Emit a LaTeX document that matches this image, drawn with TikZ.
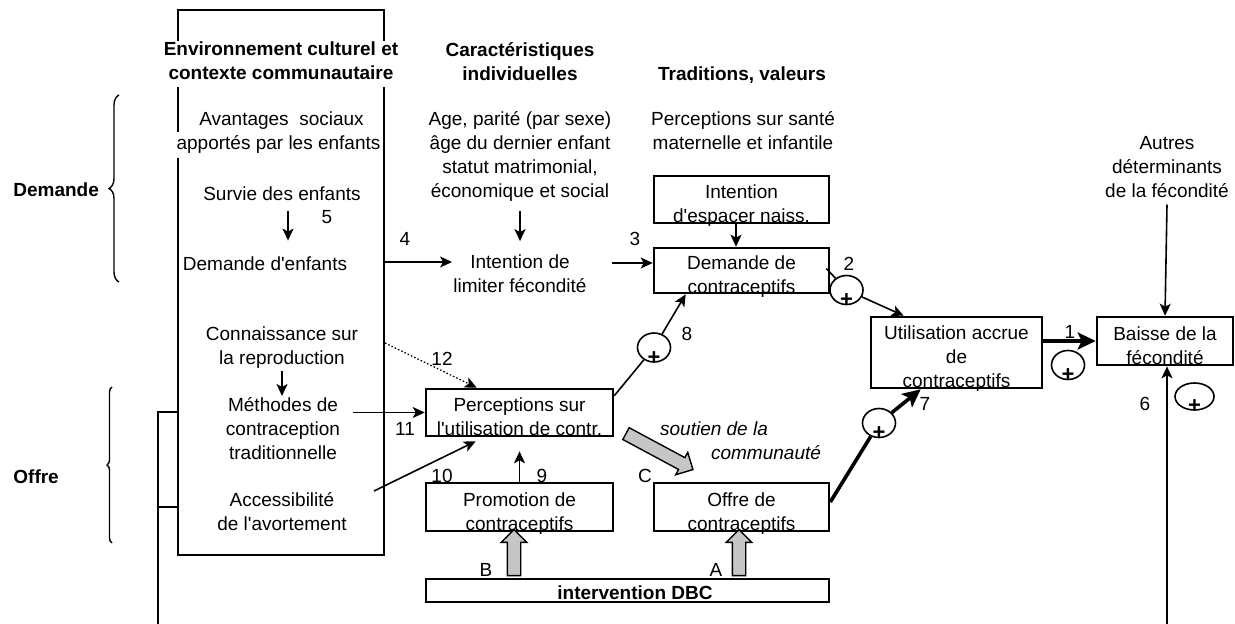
\documentclass[tikz,border=0pt]{standalone}
\usepackage{fontspec}
\setmainfont{Liberation Sans}
\usetikzlibrary{arrows.meta,shapes.geometric,shapes.arrows,decorations.pathreplacing}
\newcommand\myfs{\fontsize{9.5pt}{12pt}\selectfont}
\newcommand\apo{\textquotesingle}
\begin{document}
\begin{tikzpicture}[x=0.5pt,y=-0.5pt,
  every node/.style={font=\myfs, inner sep=0.5pt},
  txt/.style={align=center, execute at begin node=\strut, execute at end node=\strut, yshift=-2pt},
  hd/.style={txt, font=\myfs\bfseries},
  bt/.style={align=center, execute at begin node=\strut, execute at end node=\strut, yshift=-4pt},
  bx/.style={draw, line width=1.3pt, inner sep=0pt},
  pc/.style={ellipse, draw, line width=0.8pt, inner sep=0pt, minimum width=16.5pt, minimum height=14.5pt},
  plus/.style={font=\fontsize{11pt}{12pt}\selectfont\bfseries, inner sep=0pt},
  ln/.style={line width=0.8pt},
  ar/.style={line width=0.8pt, -{Stealth[length=6pt,width=5.5pt,inset=1.5pt]}},
  thk/.style={line width=1.8pt, -{Stealth[length=9pt,width=8.5pt,inset=2pt]}},
  blk/.style={single arrow, draw, line width=0.7pt, fill=gray!45, inner xsep=0pt, inner ysep=3pt, single arrow head extend=3pt, single arrow head indent=0pt},
  brc/.style={decorate, line width=0.7pt}
]
\useasboundingbox (0,0) rectangle (1235,624);

% big frame
\node[draw, line width=1.3pt, minimum width=103pt, minimum height=272.5pt, inner sep=0pt] (env) at (281,282.5) {};

% headings
\node[hd, fill=white] (h1) at (281,60) {Environnement culturel et\\contexte communautaire};
\node[hd] (h2) at (520,61) {Caractéristiques\\individuelles};
\node[hd] (h3) at (742,72) {Traditions, valeurs};

% left column texts
\node[txt] (av1) at (281.5,117) {Avantages\ \ sociaux};
\node[txt, fill=white] (av2) at (278.5,141) {apportés par les enfants};
\node[txt] (survie) at (282,192) {Survie des enfants};
\node[txt] (n5) at (327,215) {5};
\node[txt] (dmdenf) at (265,262) {Demande d\apo enfants};
\node[txt] (connais) at (282,345) {Connaissance sur\\la reproduction};
\node[txt] (methodes) at (283,428) {Méthodes de\\contraception\\traditionnelle};
\node[txt] (access) at (282,511) {Accessibilité\\de l\apo avortement};

% side labels
\node[txt, font=\myfs\bfseries, anchor=west] (ldem) at (12,188) {Demande};
\node[txt, font=\myfs\bfseries, anchor=west] (loff) at (12,475) {Offre};
\draw[brc, decoration={brace, amplitude=5pt}] (119,282) -- (119,95);
\draw[brc, decoration={brace, amplitude=2.5pt}] (112,543) -- (112,387);

% middle texts
\node[txt] (age) at (520,154) {Age, parité (par sexe)\\âge du dernier enfant\\statut matrimonial,\\économique et social};
\node[txt] (persante) at (743,130) {Perceptions sur santé\\maternelle et infantile};
\node[txt] (intl) at (520,273) {Intention de\\limiter fécondité};
\node[txt] (autres) at (1167,167) {Autres\\déterminants\\de la fécondité};

% boxes
\node[bx, minimum width=87.5pt, minimum height=23.5pt] (esp) at (741.5,199.5) {};
\node[bt] (espT) at (esp) {Intention\\d\apo espacer naiss.};
\node[bx, minimum width=87.5pt, minimum height=22.5pt] (dem) at (741.5,270.5) {};
\node[bt] (demT) at (dem) {Demande de\\contraceptifs};
\node[bx, minimum width=85.5pt, minimum height=35.5pt] (util) at (956.5,352.5) {};
\node[bt] (utilT) at (util) {Utilisation accrue\\de\\contraceptifs};
\node[bx, minimum width=68pt, minimum height=24pt] (baisse) at (1165,341) {};
\node[bt] (baisseT) at (baisse) {Baisse de la\\fécondité};
\node[bx, minimum width=93.5pt, minimum height=23.5pt] (perc) at (519.5,412.5) {};
\node[bt] (percT) at (perc) {Perceptions sur\\l\apo utilisation de contr.};
\node[bx, minimum width=93.5pt, minimum height=24pt] (promo) at (519.5,507) {};
\node[bt] (promoT) at (promo) {Promotion de\\contraceptifs};
\node[bx, minimum width=87.5pt, minimum height=24pt] (offre) at (741.5,507) {};
\node[bt] (offreT) at (offre) {Offre de\\contraceptifs};
\node[bx, minimum width=201.5pt, minimum height=11.5pt] (dbc) at (627.5,590.5) {};
\node[bt, font=\myfs\bfseries, yshift=2pt] (dbcT) at ([xshift=3.75pt]dbc) {intervention DBC};

% plus circles
\node[pc] (c2) at (846.5,290) {};
\node[plus] (p2) at ([yshift=2.5pt]c2.south) {+};
\node[pc] (c8) at (654,347.5) {};
\node[plus] (p8) at ([yshift=2.5pt]c8.south) {+};
\node[pc] (c1) at (1068,365) {};
\node[plus] (p1) at ([yshift=2.5pt]c1.south) {+};
\node[pc] (c7) at (879,423) {};
\node[plus] (p7) at ([yshift=2.5pt]c7.south) {+};
\node[pc, minimum width=19.5pt, minimum height=13.5pt] (c6) at (1194.5,396.5) {};
\node[plus] (p6) at ([yshift=2.5pt]c6.south) {+};

% number labels
\node[txt] (n4) at (405,237) {4};
\node[txt] (n3) at (635,237) {3};
\node[txt] (n2) at (849,262) {2};
\node[txt] (n1) at (1070,330) {1};
\node[txt] (n8) at (687,332) {8};
\node[txt] (n12) at (442,357) {12};
\node[txt] (n11) at (405,427) {11};
\node[txt] (n10) at (442,474) {10};
\node[txt] (n9) at (542,474) {9};
\node[txt] (nC) at (645,474) {C};
\node[txt] (nB) at (486,568) {B};
\node[txt] (nA) at (716,568) {A};
\node[txt] (n7) at (925,402) {7};
\node[txt] (n6) at (1145,402) {6};
\node[txt, font=\myfs\itshape] (sou1) at (714,427) {soutien de la};
\node[txt, font=\myfs\itshape] (sou2) at (766,451) {communauté};

% block arrows
\node[blk, rotate=90, minimum height=23pt] (bB) at (514,556) {};
\node[blk, rotate=90, minimum height=23pt] (bA) at (739,556) {};
\node[blk, rotate=-28.25, minimum height=38pt] (bC) at (656.5,450) {};

% connectors in left frame
\coordinate (a5s) at ([xshift=3pt,yshift=-1pt]survie.south);
\coordinate (a5e) at ([yshift=6pt]dmdenf.north);
\draw[ar] (a5s) -- (a5s |- a5e);
\coordinate (a9s) at ([yshift=1pt]connais.south);
\draw[ar] (a9s) -- (a9s |- methodes.north);

% left bracket lines
\coordinate (lb) at (158,626);
\coordinate (lt) at (158,412);
\coordinate (lm) at (158,507);
\draw[ln] (lb) -- (lt) -- (lt -| env.west);
\draw[ln] (lm) -- (lm -| env.west);

% 4
\coordinate (a4e) at ([yshift=7.5pt]intl.west);
\draw[ar] (env.east |- a4e) -- (a4e);
% age -> intl
\draw[ar] ([yshift=-2.5pt]age.south) -- ([yshift=6pt]intl.north);
% 3
\coordinate (a3e) at ([yshift=3.75pt]dem.west);
\coordinate (i3) at ([xshift=12pt]intl.east);
\draw[ar] (i3 |- a3e) -- (a3e);
% esp -> dem
\draw[ar] ([xshift=-2.75pt]esp.south) -- ([xshift=-2.75pt]dem.north);
% 2
\draw[ln] ([xshift=-2pt,yshift=1pt]dem.east) -- (c2);
\draw[ar] (c2) -- ([xshift=17pt]util.north west);
% 1
\draw[thk] (util.east |- baisse.west) -- (baisse.west);
% autres
\draw[ar] ([yshift=1pt]autres.south) -- (baisse.north);
% 6
\coordinate (r6) at (1167,626);
\draw[ar] (r6) -- (r6 |- baisse.south);
% 7
\draw[line width=1.8pt] ([yshift=2.5pt]offre.east) -- (c7);
\draw[thk] (c7) -- ([xshift=25.5pt]util.south west);
% 8
\draw[ln] ([yshift=-4pt]perc.north east) -- (c8);
\draw[ar] (c8) -- ([xshift=16.5pt]dem.south west);
% 11
\draw[ar] ([xshift=-36pt]perc.west) -- (perc.west);
% 10
\coordinate (s10) at (374,491);
\draw[ar] (s10) -- ([xshift=25.5pt,yshift=-2pt]perc.south west);
% 12
\coordinate (s12) at (385,343);
\draw[ar, densely dotted, line width=0.6pt] (s12) -- ([xshift=26pt]perc.north west);
% 9
\draw[ar] (promo.north) -- ([yshift=-7pt]perc.south);
\end{tikzpicture}
\end{document}
